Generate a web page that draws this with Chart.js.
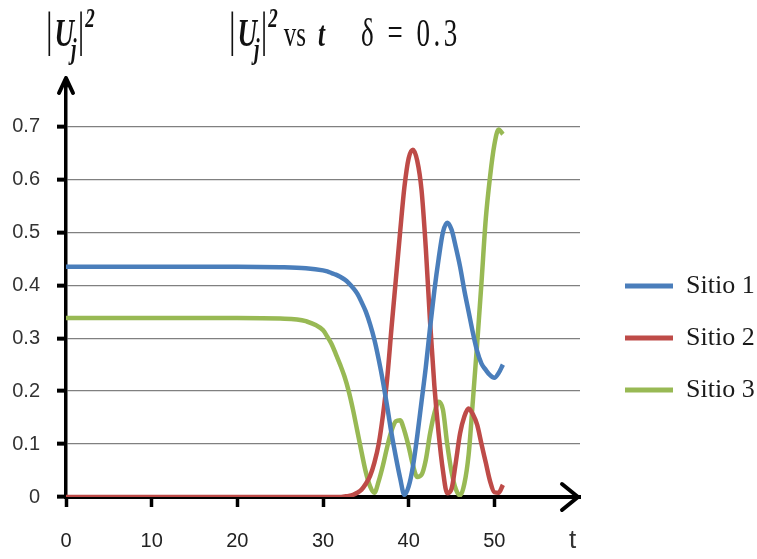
<!DOCTYPE html>
<html>
<head>
<meta charset="utf-8">
<script src="https://cdn.jsdelivr.net/npm/chart.js@4.4.1/dist/chart.umd.min.js"></script>
<style>
    body { margin: 0; background: #fff; }
    #wrap { position: relative; width: 757px; height: 559px; }
    .math { position: absolute; font-family: "Liberation Serif", serif; color: #111; white-space: nowrap; line-height: 1; transform: scaleY(1.45); transform-origin: 0 0; }
    .bar { font-size: 33px; }
    .U { font-style: italic; font-weight: bold; font-size: 27px; margin-left: 2px; }
    .sub { font-style: italic; font-weight: bold; font-size: 20px; position: relative; top: 9px; margin-left: -3px; margin-right: 1px; }
    .sup { font-style: italic; font-weight: bold; font-size: 19px; position: relative; top: -13px; margin-left: 1px; }
    .vs { font-size: 25px; margin-left: 6px; }
    .tt { font-style: italic; font-weight: bold; font-size: 25px; margin-left: 12px; }
    .delta { font-size: 27px; margin-left: 36px; letter-spacing: 3.5px; }
    #tlabel { position: absolute; left: 569px; top: 524px; font-family: "Liberation Sans", sans-serif; font-size: 26px; color: #333; }
</style>
</head>
<body>
<div id="wrap">
    <canvas id="chart" width="757" height="559"></canvas>
    <div class="math" style="left: 46px; top: 7px;"><span class="bar">|</span><span class="U">U</span><span class="sub">j</span><span class="bar">|</span><span class="sup">2</span></div>
    <div class="math" style="left: 229px; top: 7px;"><span class="bar">|</span><span class="U">U</span><span class="sub">j</span><span class="bar">|</span><span class="sup">2</span><span class="vs">vs</span><span class="tt">t</span><span class="delta">δ = 0.3</span></div>
    <div id="tlabel">t</div>
</div>
<script>
// time samples (t)
const times = [0, 5, 10, 15, 20, 25, 28,
    30, 30.5, 31, 31.5, 32, 32.5, 33, 33.5, 34, 34.5, 35, 35.5, 36, 36.5, 37, 37.5,
    38, 38.5, 39, 39.5, 40, 40.5, 41, 41.5, 42, 42.5, 43, 43.5, 44, 44.5, 45, 45.5,
    46, 46.5, 47, 47.5, 48, 48.5, 49, 49.5, 50, 50.5, 51];

const sitio1 = [0.435, 0.435, 0.435, 0.435, 0.435, 0.434, 0.432,
    0.428, 0.426, 0.423, 0.420, 0.416, 0.411, 0.404, 0.395, 0.384, 0.368, 0.350, 0.326, 0.297, 0.260, 0.218, 0.170,
    0.120, 0.076, 0.036, 0.004, 0.020, 0.058, 0.115, 0.180, 0.245, 0.320, 0.390, 0.450, 0.500, 0.518, 0.505, 0.472,
    0.435, 0.390, 0.350, 0.310, 0.275, 0.252, 0.240, 0.230, 0.225, 0.234, 0.250];

const sitio2 = [0, 0, 0, 0, 0, 0, 0,
    0, 0, 0, 0, 0, 0.001, 0.002, 0.004, 0.008, 0.014, 0.025, 0.040, 0.065, 0.100, 0.155, 0.225,
    0.320, 0.410, 0.500, 0.585, 0.640, 0.656, 0.635, 0.580, 0.470, 0.330, 0.210, 0.120, 0.050, 0.007, 0.015, 0.065,
    0.120, 0.152, 0.167, 0.156, 0.136, 0.100, 0.065, 0.030, 0.009, 0.008, 0.023];

const sitio3 = [0.338, 0.338, 0.338, 0.338, 0.338, 0.337, 0.332,
    0.315, 0.303, 0.289, 0.270, 0.250, 0.228, 0.200, 0.165, 0.125, 0.085, 0.047, 0.020, 0.008, 0.030, 0.060, 0.095,
    0.125, 0.143, 0.145, 0.125, 0.095, 0.060, 0.038, 0.042, 0.070, 0.120, 0.158, 0.180, 0.165, 0.100, 0.048, 0.015,
    0.003, 0.025, 0.080, 0.183, 0.290, 0.405, 0.525, 0.605, 0.665, 0.694, 0.685];

const xTicks = [0, 10, 20, 30, 40, 50];
const yTicks = [0, 0.1, 0.2, 0.3, 0.4, 0.5, 0.6, 0.7];
const seriesNames = ["Sitio 1", "Sitio 2", "Sitio 3"];
const seriesColors = ["#4a7ebb", "#be4b48", "#98b954"];

const toPoints = (values) => values.map((v, i) => ({ x: times[i], y: v }));

// axis arrow heads, like the hand drawn axes in the original
const axisArrows = {
    id: "axisArrows",
    afterDatasetsDraw(chart) {
        const { ctx, chartArea } = chart;
        const x0 = chart.scales.x.getPixelForValue(0);
        const y0 = chart.scales.y.getPixelForValue(0);
        ctx.save();
        ctx.strokeStyle = "#000";
        ctx.lineWidth = 4;
        ctx.lineCap = "round";
        ctx.lineJoin = "round";
        const tipY = chartArea.top - 6;
        ctx.beginPath();
        ctx.moveTo(x0, chartArea.top + 2);
        ctx.lineTo(x0, tipY);
        ctx.moveTo(x0 - 7, tipY + 15);
        ctx.lineTo(x0, tipY);
        ctx.lineTo(x0 + 7, tipY + 15);
        ctx.stroke();
        const tipX = chartArea.right - 2;
        ctx.beginPath();
        ctx.moveTo(tipX - 16, y0 - 13);
        ctx.lineTo(tipX, y0);
        ctx.lineTo(tipX - 16, y0 + 13);
        ctx.stroke();
        ctx.restore();
    },
};

// put the legend to the right of the plot, about level with the middle of it
const legendPlace = {
    id: "legendPlace",
    afterLayout(chart) {
        const lg = chart.legend;
        const w = lg.width;
        const h = lg.height;
        lg.left = 599;
        lg.top = 247;
        lg.right = lg.left + w;
        lg.bottom = lg.top + h;
    },
};

new Chart(document.getElementById("chart"), {
    type: "line",
    data: {
        datasets: seriesNames.map((name, i) => ({
            label: name,
            data: toPoints([sitio1, sitio2, sitio3][i]),
            borderColor: seriesColors[i],
            backgroundColor: seriesColors[i],
            borderWidth: 4.5,
            pointRadius: 0,
            cubicInterpolationMode: "monotone",
        })),
    },
    options: {
        responsive: false,
        animation: false,
        layout: { padding: { left: 0, top: 84, right: 177, bottom: 0 } },
        plugins: {
            tooltip: { enabled: false },
            legend: {
                position: "chartArea",
                align: "start",
                labels: {
                    boxWidth: 48,
                    boxHeight: 5,
                    padding: 26,
                    color: "#1a1a1a",
                    font: { family: "Liberation Serif", size: 26 },
                    generateLabels: (chart) => Chart.defaults.plugins.legend.labels.generateLabels(chart).map((item) => ({ ...item, lineWidth: 0 })),
                },
            },
        },
        scales: {
            x: {
                type: "linear",
                min: 0,
                max: 60,
                afterBuildTicks: (scale) => { scale.ticks = xTicks.map((v) => ({ value: v })); },
                afterFit: (scale) => { scale.height = 62; },
                border: { color: "#000", width: 4 },
                grid: { drawOnChartArea: false, tickLength: 10, tickColor: "#000", tickWidth: 3.5 },
                ticks: { color: "#222", padding: 22, font: { family: "Liberation Sans", size: 20 } },
            },
            y: {
                type: "linear",
                min: 0,
                max: 0.78,
                afterBuildTicks: (scale) => { scale.ticks = yTicks.map((v) => ({ value: v })); },
                afterFit: (scale) => { scale.width = 66; },
                border: { color: "#000", width: 3.5 },
                grid: { color: "#808080", lineWidth: 1.3, tickLength: 9, tickColor: "#000", tickWidth: 4 },
                ticks: {
                    color: "#333",
                    padding: 17,
                    font: { family: "Liberation Sans", size: 20 },
                    callback: (v) => (v === 0 ? "0" : v.toFixed(1)),
                },
            },
        },
    },
    plugins: [axisArrows, legendPlace],
});
</script>
</body>
</html>
